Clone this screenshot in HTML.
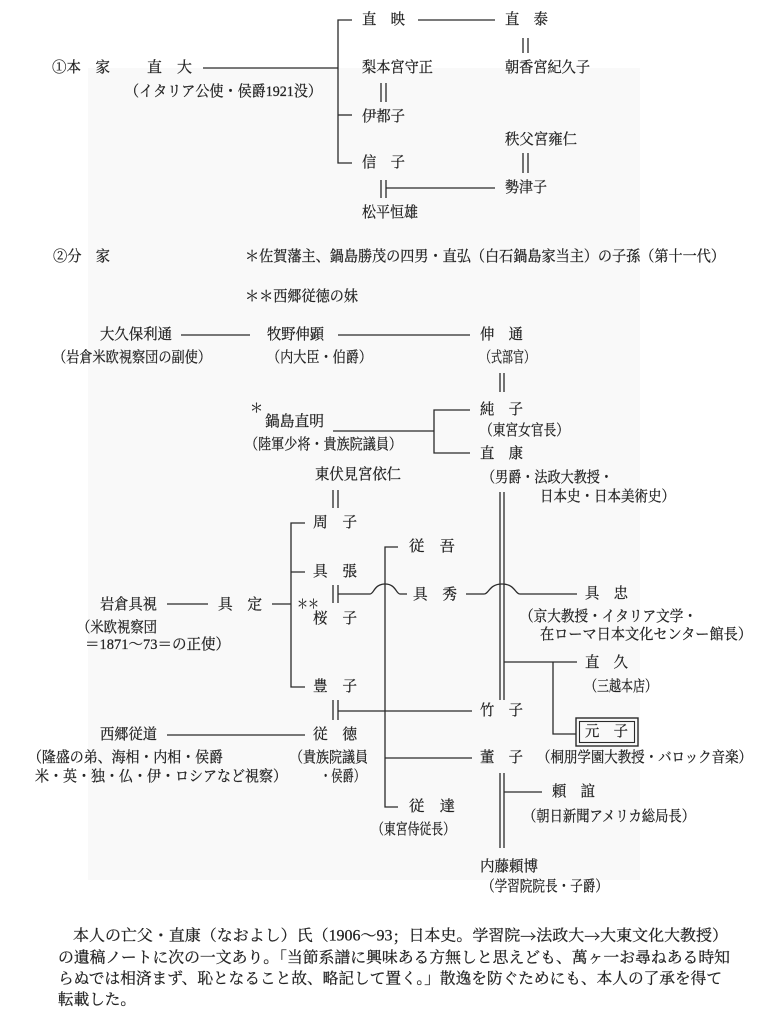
<!DOCTYPE html>
<html><head><meta charset="utf-8"><style>
html,body{margin:0;padding:0;background:#fff;}
svg{display:block;}
text{font-family:"Liberation Serif","Noto Serif CJK SC","Noto Serif CJK JP",serif;fill:#222;font-size:15px;dominant-baseline:central;stroke:#222;stroke-width:0.25;}
.s{font-size:15.4px;}
.a{font-family:"Noto Serif CJK SC",serif;}
</style></head><body>
<svg width="769" height="1024" viewBox="0 0 769 1024" xmlns="http://www.w3.org/2000/svg">
<rect x="0" y="0" width="769" height="1024" fill="#fff"/>
<rect x="88" y="68" width="552" height="812" fill="#f9f9f9"/>
<g fill="none" stroke="#2a2a2a" stroke-width="1.3">
<!-- top -->
<path d="M203 68H338"/>
<path d="M352 20H338V163H352"/>
<path d="M338 115H352"/>
<path d="M418 20H495"/>
<path d="M523 38V53M528 38V53"/>
<path d="M381 83V102M386 83V102"/>
<path d="M523 153V173M528 153V173"/>
<path d="M381 180V198M386 180V198M386 188H495"/>
<!-- section 2 -->
<path d="M181 335H250"/>
<path d="M338 335H470"/>
<path d="M500 373V392M504 373V392"/>
<path d="M333 431H434"/>
<path d="M470 410H434V453H470"/>
<path d="M500 492V700M504 492V700"/>
<path d="M333 490V508M338 490V508"/>
<path d="M305 523H291V687H305M291 572H305M272 604H291"/>
<path d="M167 604H208"/>
<path d="M333 585V603M338 585V603"/>
<path d="M338 594H370C374 594 374 584 385 584C396 584 396 594 400 594H407"/>
<path d="M466 594H484C489 594 489 584 502 584C515 584 515 594 520 594H577"/>
<path d="M398 547H385V807H398"/>
<path d="M504 662H577M553 662V734H576"/>
<path d="M333 700V720M338 700V720M338 711H472"/>
<path d="M167 735H305"/>
<path d="M385 758H472"/>
<path d="M500 773V848M504 773V848"/>
<path d="M504 792H542"/>
<rect x="576" y="718" width="62" height="28" stroke-width="1.4"/>
<rect x="579.5" y="721.5" width="55" height="21" stroke-width="1.1"/>
</g>
<!-- top labels -->
<text x="52" y="68" textLength="58" lengthAdjust="spacingAndGlyphs">①本　家</text>
<text x="147" y="68" textLength="45" lengthAdjust="spacingAndGlyphs">直　大</text>
<text x="125" y="92" textLength="197" lengthAdjust="spacingAndGlyphs">（イタリア公使・侯爵1921没）</text>
<text x="362" y="20" textLength="43" lengthAdjust="spacingAndGlyphs">直　映</text>
<text x="505" y="20" textLength="43" lengthAdjust="spacingAndGlyphs">直　泰</text>
<text x="362" y="68" textLength="71" lengthAdjust="spacingAndGlyphs">梨本宮守正</text>
<text x="505" y="68" textLength="85" lengthAdjust="spacingAndGlyphs">朝香宮紀久子</text>
<text x="362" y="117" textLength="43" lengthAdjust="spacingAndGlyphs">伊都子</text>
<text x="505" y="140" textLength="72" lengthAdjust="spacingAndGlyphs">秩父宮雍仁</text>
<text x="362" y="163" textLength="43" lengthAdjust="spacingAndGlyphs">信　子</text>
<text x="505" y="188" textLength="42" lengthAdjust="spacingAndGlyphs">勢津子</text>
<text x="362" y="213" textLength="56" lengthAdjust="spacingAndGlyphs">松平恒雄</text>
<!-- section 2 labels -->
<text x="53" y="257" textLength="57" lengthAdjust="spacingAndGlyphs">②分　家</text>
<text x="245" y="257" textLength="480" lengthAdjust="spacingAndGlyphs">＊佐賀藩主、鍋島勝茂の四男・直弘（白石鍋島家当主）の子孫（第十一代）</text>
<text x="245" y="297" textLength="113" lengthAdjust="spacingAndGlyphs">＊＊西郷従徳の妹</text>
<text x="100" y="335" textLength="72" lengthAdjust="spacingAndGlyphs">大久保利通</text>
<text x="267" y="335" textLength="57" lengthAdjust="spacingAndGlyphs">牧野伸顕</text>
<text x="480" y="335" textLength="43" lengthAdjust="spacingAndGlyphs">伸　通</text>
<text x="53" y="358" textLength="158" lengthAdjust="spacingAndGlyphs">（岩倉米欧視察団の副使）</text>
<text x="267" y="358" textLength="105" lengthAdjust="spacingAndGlyphs">（内大臣・伯爵）</text>
<text x="480" y="358" textLength="55" lengthAdjust="spacingAndGlyphs">（式部官）</text>
<text x="250" y="408" style="font-size:13px">＊</text>
<text x="480" y="410" textLength="43" lengthAdjust="spacingAndGlyphs">純　子</text>
<text x="265" y="422" textLength="59" lengthAdjust="spacingAndGlyphs">鍋島直明</text>
<text x="480" y="431" textLength="89" lengthAdjust="spacingAndGlyphs">（東宮女官長）</text>
<text x="245" y="445" textLength="157" lengthAdjust="spacingAndGlyphs">（陸軍少将・貴族院議員）</text>
<text x="480" y="454" textLength="43" lengthAdjust="spacingAndGlyphs">直　康</text>
<text x="315" y="475" textLength="86" lengthAdjust="spacingAndGlyphs">東伏見宮依仁</text>
<text x="482" y="478" textLength="131" lengthAdjust="spacingAndGlyphs">（男爵・法政大教授・</text>
<text x="540" y="497" textLength="135" lengthAdjust="spacingAndGlyphs">日本史・日本美術史）</text>
<text x="313" y="523" textLength="44" lengthAdjust="spacingAndGlyphs">周　子</text>
<text x="409" y="547" textLength="46" lengthAdjust="spacingAndGlyphs">従　吾</text>
<text x="313" y="572" textLength="44" lengthAdjust="spacingAndGlyphs">具　張</text>
<text x="413" y="595" textLength="44" lengthAdjust="spacingAndGlyphs">具　秀</text>
<text x="585" y="594" textLength="43" lengthAdjust="spacingAndGlyphs">具　忠</text>
<text x="100" y="605" textLength="57" lengthAdjust="spacingAndGlyphs">岩倉具視</text>
<text x="218" y="605" textLength="44" lengthAdjust="spacingAndGlyphs">具　定</text>
<text x="297" y="604" textLength="22" lengthAdjust="spacingAndGlyphs" style="font-size:13px">＊＊</text>
<text x="313" y="619" textLength="44" lengthAdjust="spacingAndGlyphs">桜　子</text>
<text x="520" y="617" textLength="177" lengthAdjust="spacingAndGlyphs">（京大教授・イタリア文学・</text>
<text x="77" y="628" textLength="80" lengthAdjust="spacingAndGlyphs">（米欧視察団</text>
<text x="540" y="635" textLength="212" lengthAdjust="spacingAndGlyphs">在ローマ日本文化センター館長）</text>
<text x="85" y="645" textLength="145" lengthAdjust="spacingAndGlyphs">＝1871〜73＝の正使）</text>
<text x="585" y="663" textLength="43" lengthAdjust="spacingAndGlyphs">直　久</text>
<text x="313" y="687" textLength="44" lengthAdjust="spacingAndGlyphs">豊　子</text>
<text x="585" y="687" textLength="72" lengthAdjust="spacingAndGlyphs">（三越本店）</text>
<text x="480" y="711" textLength="43" lengthAdjust="spacingAndGlyphs">竹　子</text>
<text x="585" y="732" textLength="43" lengthAdjust="spacingAndGlyphs">元　子</text>
<text x="100" y="735" textLength="57" lengthAdjust="spacingAndGlyphs">西郷従道</text>
<text x="313" y="735" textLength="44" lengthAdjust="spacingAndGlyphs">従　徳</text>
<text x="28" y="758" textLength="195" lengthAdjust="spacingAndGlyphs">（隆盛の弟、海相・内相・侯爵</text>
<text x="290" y="758" textLength="78" lengthAdjust="spacingAndGlyphs">（貴族院議員</text>
<text x="480" y="758" textLength="43" lengthAdjust="spacingAndGlyphs">董　子</text>
<text x="537" y="758" textLength="215" lengthAdjust="spacingAndGlyphs">（桐朋学園大教授・バロック音楽）</text>
<text x="35" y="777" textLength="252" lengthAdjust="spacingAndGlyphs">米・英・独・仏・伊・ロシアなど視察）</text>
<text x="320" y="777" textLength="45" lengthAdjust="spacingAndGlyphs">・侯爵）</text>
<text x="552" y="792" textLength="43" lengthAdjust="spacingAndGlyphs">頼　誼</text>
<text x="409" y="807" textLength="46" lengthAdjust="spacingAndGlyphs">従　達</text>
<text x="523" y="817" textLength="172" lengthAdjust="spacingAndGlyphs">（朝日新聞アメリカ総局長）</text>
<text x="372" y="830" textLength="83" lengthAdjust="spacingAndGlyphs">（東宮侍従長）</text>
<text x="480" y="867" textLength="58" lengthAdjust="spacingAndGlyphs">内藤頼博</text>
<text x="482" y="887" textLength="126" lengthAdjust="spacingAndGlyphs">（学習院院長・子爵）</text>
<!-- paragraph -->
<text class="s" x="73" y="936" textLength="655" lengthAdjust="spacingAndGlyphs">本人の亡父・直康（なおよし）氏（1906〜93<tspan class="a">；</tspan>日本史。学習院<tspan class="a">→</tspan>法政大<tspan class="a">→</tspan>大東文化大教授）</text>
<text class="s" x="58" y="958" textLength="672" lengthAdjust="spacingAndGlyphs">の遺稿ノートに次の一文あり。「当節系譜に興味ある方無しと思えども、萬ヶ一お尋ねある時知</text>
<text class="s" x="58" y="979" textLength="664" lengthAdjust="spacingAndGlyphs">らぬでは相済まず、恥となること故、略記して置く。」散逸を防ぐためにも、本人の了承を得て</text>
<text class="s" x="58" y="1000" textLength="78" lengthAdjust="spacingAndGlyphs">転載した。</text>
</svg>
</body></html>
